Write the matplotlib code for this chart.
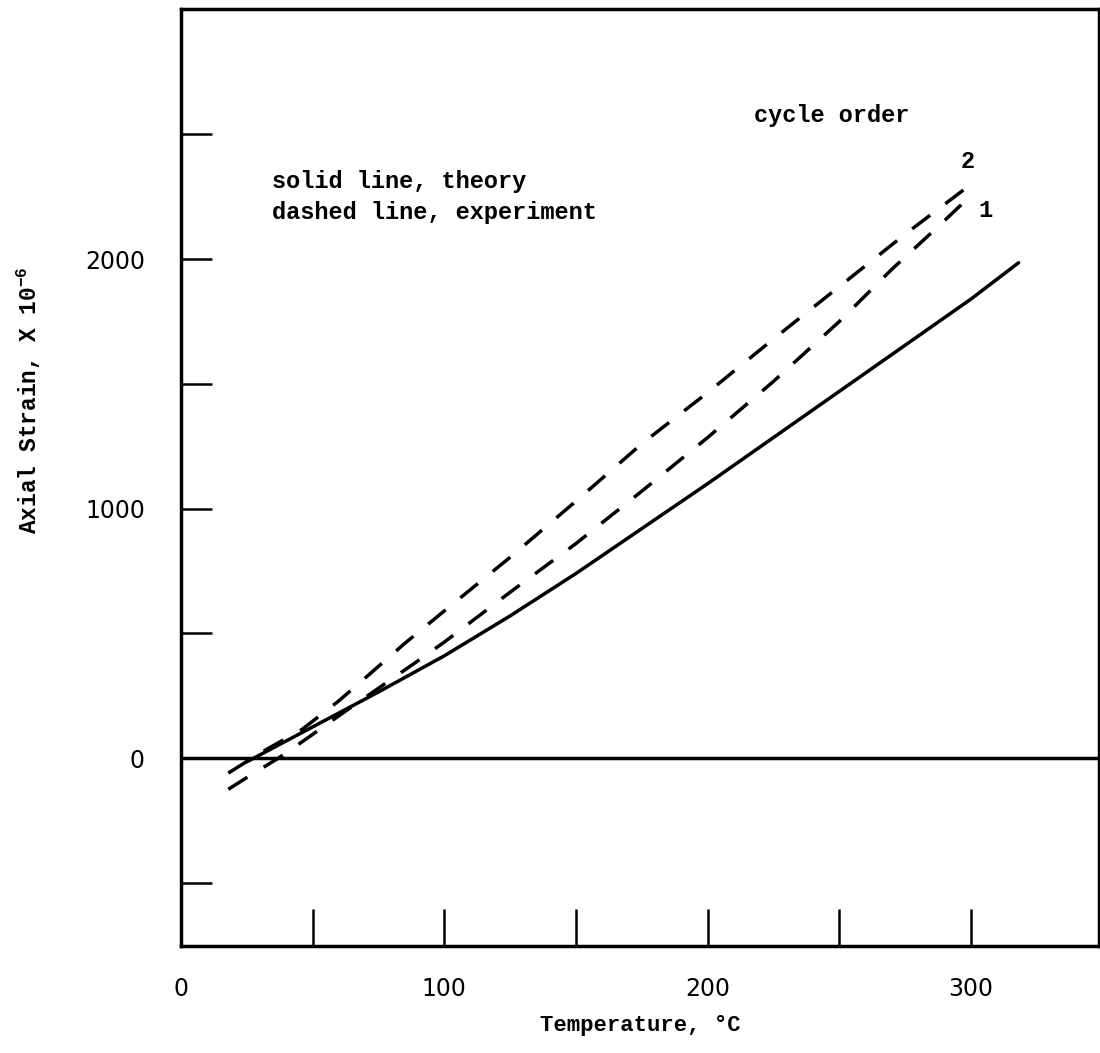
import matplotlib
matplotlib.use('Agg')
import matplotlib.pyplot as plt

plt.rcParams['font.family'] = ['Liberation Mono', 'DejaVu Sans']
plt.rcParams['mathtext.default'] = 'regular'

theory_temp = [25, 50, 75, 100, 125, 150, 175, 200, 225, 250, 275, 300, 318]
theory_strain = [-15, 125, 265, 410, 570, 740, 920, 1100, 1285, 1470, 1655, 1840, 1985]

cycle2_temp = [18, 30, 46, 60, 72, 85, 100, 125, 150, 175, 200, 225, 250, 275, 300]
cycle2_strain = [-60, 20, 115, 230, 340, 460, 590, 805, 1030, 1260, 1465, 1680, 1890, 2100, 2300]

cycle1_temp = [18, 25, 37, 48, 60, 75, 90, 100, 125, 150, 175, 200, 225, 250, 270, 288, 300]
cycle1_strain = [-125, -78, 0, 80, 170, 280, 390, 465, 665, 860, 1070, 1285, 1510, 1750, 1960, 2135, 2255]

x_ticks = [0, 50, 100, 150, 200, 250, 300]
x_labels = ['0', '', '100', '', '200', '', '300']
y_ticks = [-500, 0, 500, 1000, 1500, 2000, 2500]
y_labels = ['', '0', '', '1000', '', '2000', '']

fig = plt.figure(figsize=(11, 10.53), dpi=100)
ax = fig.add_axes([0.1645, 0.1016, 0.999 - 0.1645, 0.9915 - 0.1016])

lw = 2.5
ax.plot(theory_temp, theory_strain, color='black', lw=lw, solid_capstyle='round')
ax.plot(cycle2_temp, cycle2_strain, color='black', lw=lw, linestyle=(0, (6.5, 5.5)))
ax.plot(cycle1_temp, cycle1_strain, color='black', lw=lw, linestyle=(0, (6.5, 5.5)))
ax.axhline(0, color='black', lw=lw)

ax.set_xlim(0, 348.5)
ax.set_ylim(-753, 3002)

for s in ax.spines.values():
    s.set_linewidth(lw)

ax.set_xticks(x_ticks)
ax.set_xticklabels(x_labels, fontfamily='DejaVu Sans', fontsize=17)
ax.set_yticks(y_ticks)
ax.set_yticklabels(y_labels, fontfamily='DejaVu Sans', fontsize=17)
ax.tick_params(axis='x', direction='in', length=27, width=1.8, pad=22)
ax.tick_params(axis='y', direction='in', length=22, width=1.8, pad=26)

ax.set_xlabel('Temperature, °C', fontsize=16, fontweight='bold')
ax.xaxis.set_label_coords(0.5, -0.073)
ax.set_ylabel('Axial Strain, X 10$^{-6}$', fontsize=16.5, fontweight='bold')
ax.yaxis.set_label_coords(-0.15, 0.583)

ax.text(34.5, 2309, 'solid line, theory', fontsize=17, fontweight='bold', va='center')
ax.text(34.5, 2188, 'dashed line, experiment', fontsize=17, fontweight='bold', va='center')
ax.text(217.5, 2577, 'cycle order', fontsize=17, fontweight='bold', va='center')
ax.text(298.6, 2389, '2', fontsize=17, fontweight='bold', va='center', ha='center')
ax.text(305.4, 2196, '1', fontsize=17, fontweight='bold', va='center', ha='center')

plt.savefig('out.png', dpi=100)
